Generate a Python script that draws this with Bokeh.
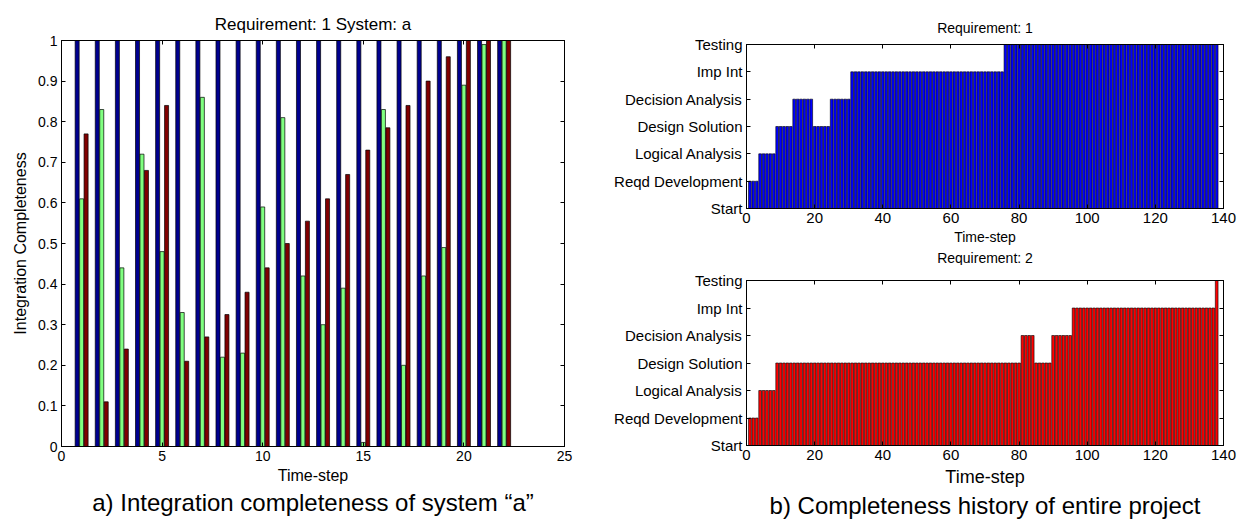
from bokeh.plotting import figure
from bokeh.layouts import row, column
from bokeh.models import (ColumnDataSource, LinearAxis, FixedTicker, NumeralTickFormatter,
                          Title, Range1d)
from bokeh.transform import dodge
from bokeh.embed import file_html
from bokeh.resources import INLINE

FONT = "Liberation Sans"

# ---------------- data: left chart (Requirement 1, System a) ----------------
steps_a = list(range(1, 23))
blue_vals = [1.0, 1.0, 1.0, 1.0, 1.0, 1.0, 1.0, 1.0, 1.0, 1.0, 1.0,
             1.0, 1.0, 1.0, 1.0, 1.0, 1.0, 1.0, 1.0, 1.0, 1.0, 1.0]
green_vals = [0.61, 0.83, 0.44, 0.72, 0.48, 0.33, 0.86, 0.22, 0.23, 0.59, 0.81,
              0.42, 0.30, 0.39, 0.01, 0.83, 0.20, 0.42, 0.49, 0.89, 0.99, 1.0]
red_vals = [0.77, 0.11, 0.24, 0.68, 0.84, 0.21, 0.27, 0.325, 0.38, 0.44, 0.50,
            0.555, 0.61, 0.67, 0.73, 0.785, 0.84, 0.90, 0.96, 1.0, 1.0, 1.0]
left_yticks = [0, 0.1, 0.2, 0.3, 0.4, 0.5, 0.6, 0.7, 0.8, 0.9, 1.0]
left_xticks = [0, 5, 10, 15, 20, 25]

# ---------------- data: right charts (project history) ----------------
stage_labels = ["Start", "Reqd Development", "Logical Analysis", "Design Solution",
                "Decision Analysis", "Imp Int", "Testing"]
steps_b = list(range(1, 139))
req1_stage = [
    1, 1, 1, 2, 2, 2, 2, 2, 3, 3, 3, 3, 3, 4, 4, 4, 4, 4, 4, 3,
    3, 3, 3, 3, 4, 4, 4, 4, 4, 4, 5, 5, 5, 5, 5, 5, 5, 5, 5, 5,
    5, 5, 5, 5, 5, 5, 5, 5, 5, 5, 5, 5, 5, 5, 5, 5, 5, 5, 5, 5,
    5, 5, 5, 5, 5, 5, 5, 5, 5, 5, 5, 5, 5, 5, 5, 6, 6, 6, 6, 6,
    6, 6, 6, 6, 6, 6, 6, 6, 6, 6, 6, 6, 6, 6, 6, 6, 6, 6, 6, 6,
    6, 6, 6, 6, 6, 6, 6, 6, 6, 6, 6, 6, 6, 6, 6, 6, 6, 6, 6, 6,
    6, 6, 6, 6, 6, 6, 6, 6, 6, 6, 6, 6, 6, 6, 6, 6, 6, 6]
req2_stage = [
    1, 1, 1, 2, 2, 2, 2, 2, 3, 3, 3, 3, 3, 3, 3, 3, 3, 3, 3, 3,
    3, 3, 3, 3, 3, 3, 3, 3, 3, 3, 3, 3, 3, 3, 3, 3, 3, 3, 3, 3,
    3, 3, 3, 3, 3, 3, 3, 3, 3, 3, 3, 3, 3, 3, 3, 3, 3, 3, 3, 3,
    3, 3, 3, 3, 3, 3, 3, 3, 3, 3, 3, 3, 3, 3, 3, 3, 3, 3, 3, 3,
    4, 4, 4, 4, 3, 3, 3, 3, 3, 4, 4, 4, 4, 4, 4, 5, 5, 5, 5, 5,
    5, 5, 5, 5, 5, 5, 5, 5, 5, 5, 5, 5, 5, 5, 5, 5, 5, 5, 5, 5,
    5, 5, 5, 5, 5, 5, 5, 5, 5, 5, 5, 5, 5, 5, 5, 5, 5, 6]
right_xticks = [0, 20, 40, 60, 80, 100, 120, 140]
right_yticks = [0, 1, 2, 3, 4, 5, 6]


def style_axis(ax, font_size, show_labels=True):
    ax.major_tick_in = 4
    ax.major_tick_out = 0
    ax.minor_tick_line_color = None
    ax.axis_line_color = "black"
    ax.major_tick_line_color = "black"
    ax.major_label_text_font = FONT
    ax.major_label_text_color = "black"
    ax.axis_label_text_font = FONT
    ax.axis_label_text_font_style = "normal"
    ax.axis_label_text_color = "black"
    if show_labels:
        ax.major_label_text_font_size = font_size
        ax.major_label_standoff = 4
    else:
        ax.major_label_text_font_size = "1px"
        ax.major_label_text_alpha = 0
        ax.major_label_text_color = None
        ax.major_label_standoff = 0


def add_box(p, xticks, yticks):
    top = LinearAxis(ticker=FixedTicker(ticks=xticks))
    right = LinearAxis(ticker=FixedTicker(ticks=yticks))
    style_axis(top, "1px", False)
    style_axis(right, "1px", False)
    p.add_layout(top, "above")
    p.add_layout(right, "right")


def style_title(p, size, standoff):
    p.title.align = "center"
    p.title.text_font = FONT
    p.title.text_font_style = "normal"
    p.title.text_font_size = size
    p.title.text_color = "black"
    p.title.standoff = standoff


def text_title(text, size, standoff):
    return Title(text=text, align="center", text_font=FONT, text_font_style="normal",
                 text_font_size=size, text_color="black", standoff=standoff)


# ---------------- left figure ----------------
pl = figure(output_backend="svg", toolbar_location=None,
            x_range=Range1d(0, 25), y_range=Range1d(0, 1),
            frame_width=503, frame_height=406,
            min_border_left=61, min_border_top=40, min_border_bottom=75,
            min_border_right=44)
pl.title.text = "Requirement: 1 System: a"
style_title(pl, "17px", 13)
pl.xgrid.visible = False
pl.ygrid.visible = False
pl.outline_line_color = "black"

src_a = ColumnDataSource(dict(step=steps_a, blue=blue_vals, green=green_vals, red=red_vals))
pl.vbar(x=dodge("step", -0.222, range=pl.x_range), top="blue", width=0.2, source=src_a,
        fill_color="#00008F", line_color="black", line_width=0.7)
pl.vbar(x=dodge("step", 0.0, range=pl.x_range), top="green", width=0.2, source=src_a,
        fill_color="#80FF80", line_color="black", line_width=0.7)
pl.vbar(x=dodge("step", 0.222, range=pl.x_range), top="red", width=0.2, source=src_a,
        fill_color="#800000", line_color="black", line_width=0.7)

pl.xaxis.ticker = FixedTicker(ticks=left_xticks)
pl.yaxis.ticker = FixedTicker(ticks=left_yticks)
pl.yaxis.formatter = NumeralTickFormatter(format="0.[0]")
style_axis(pl.xaxis[0], "14px")
style_axis(pl.yaxis[0], "14px")
pl.xaxis.axis_label = "Time-step"
pl.yaxis.axis_label = "Integration Completeness"
pl.xaxis.axis_label_text_font_size = "16px"
pl.yaxis.axis_label_text_font_size = "16px"
pl.xaxis.axis_label_standoff = 3
pl.yaxis.axis_label_standoff = 6
add_box(pl, left_xticks, left_yticks)
pl.add_layout(text_title("a) Integration completeness of system \u201ca\u201d", "24px", 0), "below")


# ---------------- right figures ----------------
def stage_fig(stages, color, top_border, bottom_border, fheight, xlabel_size, xlabel_standoff,
              title=None, below_text=None, below_size="14px"):
    p = figure(output_backend="svg", toolbar_location=None, title=title,
               x_range=Range1d(0, 140), y_range=Range1d(0, 6),
               frame_width=477, frame_height=fheight,
               min_border_left=138, min_border_top=top_border,
               min_border_bottom=bottom_border, min_border_right=14)
    if title is not None:
        style_title(p, "14px", 17)
    p.xgrid.visible = False
    p.ygrid.visible = False
    p.outline_line_color = "black"
    src = ColumnDataSource(dict(step=steps_b, stage=stages))
    p.vbar(x="step", top="stage", width=0.8, source=src,
           fill_color=color, line_color="black", line_width=0.6)
    p.xaxis.ticker = FixedTicker(ticks=right_xticks)
    p.yaxis.ticker = FixedTicker(ticks=right_yticks)
    p.yaxis.major_label_overrides = {i: s for i, s in zip(right_yticks, stage_labels)}
    style_axis(p.xaxis[0], "15px")
    style_axis(p.yaxis[0], "15px")
    p.xaxis.axis_label = "Time-step"
    p.xaxis.axis_label_text_font_size = xlabel_size
    p.xaxis.axis_label_standoff = xlabel_standoff
    add_box(p, right_xticks, right_yticks)
    if below_text:
        p.add_layout(text_title(below_text, below_size, 0), "below")
    return p


# top panel carries the heading of the lower panel directly below its own x label
pr1 = stage_fig(req1_stage, "#0000FF", 44, 55, 164, "14px", 3,
                title="Requirement: 1", below_text="Requirement: 2", below_size="14px")
pr2 = stage_fig(req2_stage, "#FF0000", 15, 75, 165, "18px", 4,
                below_text="b) Completeness history of entire project", below_size="24px")

layout = row(pl, column(pr1, pr2, spacing=0), spacing=0)

open("out.html", "w").write(file_html(layout, INLINE))
